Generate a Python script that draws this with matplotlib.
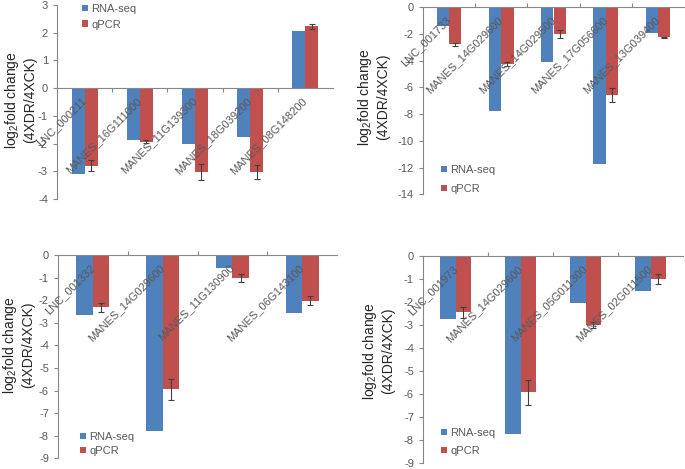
import matplotlib
matplotlib.use("Agg")
import matplotlib.pyplot as plt
import numpy as np

plt.rcParams['font.family'] = ['Liberation Sans', 'DejaVu Sans']
plt.rcParams['mathtext.fontset'] = 'custom'
plt.rcParams['mathtext.rm'] = 'Liberation Sans'
plt.rcParams['mathtext.it'] = 'Liberation Sans:italic'
plt.rcParams['mathtext.bf'] = 'Liberation Sans:bold'
plt.rcParams['axes.axisbelow'] = False

W, H = 685, 469

# ---- data ----
p1_genes = ["LNC_000211", "MANES_16G111000", "MANES_11G139300", "MANES_18G039200", "MANES_08G148200"]
p1_rna = [-3.1, -1.88, -2.02, -1.76, 2.05]
p1_qpcr = [-2.8, -1.93, -3.02, -3.02, 2.23]
p1_err = [0.2, 0.05, 0.28, 0.25, 0.1]

p2_genes = ["LNC_001733", "MANES_14G029600", "MANES_14G029500", "MANES_17G056600", "MANES_13G039400"]
p2_rna = [-1.4, -7.74, -4.12, -11.73, -1.95]
p2_qpcr = [-2.77, -4.24, -2.02, -6.56, -2.25]
p2_err = [0.12, 0.15, 0.3, 0.55, 0.05]

p3_genes = ["LNC_001332", "MANES_14G029600", "MANES_11G130900", "MANES_06G143100"]
p3_rna = [-2.65, -7.77, -0.56, -2.58]
p3_qpcr = [-2.32, -5.94, -1.0, -2.02]
p3_err = [0.2, 0.46, 0.18, 0.2]

p4_genes = ["LNC_001973", "MANES_14G029600", "MANES_05G011300", "MANES_02G011500"]
p4_rna = [-2.74, -7.75, -2.03, -1.51]
p4_qpcr = [-2.44, -5.94, -3.0, -1.02]
p4_err = [0.24, 0.54, 0.12, 0.22]

BLUE = "#4F81BD"
RED = "#C0504D"
GRAY = "#595959"
AXC = "#868686"

fig = plt.figure(figsize=(W / 100, H / 100), dpi=100)

def px_axes(l, t, r, b):
    return fig.add_axes([l / W, 1 - b / H, (r - l) / W, (b - t) / H])

panels = [
    dict(box=(57, 5, 333, 199), genes=p1_genes, rna=p1_rna, q=p1_qpcr, err=p1_err,
         ylim=(-4, 3), yt=np.arange(-4, 4, 1), tickdir='out',
         leg=(82, 4), lsp=0.5, ylab=(20, 100)),
    dict(box=(423, 7.3, 684, 194.3), genes=p2_genes, rna=p2_rna, q=p2_qpcr, err=p2_err,
         ylim=(-14, 0), yt=np.arange(-14, 1, 2), tickdir='in',
         leg=(441, 165), lsp=0.8, ylab=(373, 97)),
    dict(box=(58, 255, 337, 458.3), genes=p3_genes, rna=p3_rna, q=p3_qpcr, err=p3_err,
         ylim=(-9, 0), yt=np.arange(-9, 1, 1), tickdir='in',
         leg=(80, 432), lsp=0.36, ylab=(18, 345)),
    dict(box=(423, 256, 683, 462.7), genes=p4_genes, rna=p4_rna, q=p4_qpcr, err=p4_err,
         ylim=(-9, 0), yt=np.arange(-9, 1, 1), tickdir='in',
         leg=(441, 428), lsp=0.7, ylab=(378, 351)),
]

w = 0.235
for p in panels:
    ax = px_axes(*p['box'])
    ax.set_axisbelow(False)
    n = len(p['genes'])
    x = np.arange(n)
    ax.bar(x - w / 2, p['rna'], w, color=BLUE, label="RNA-seq", zorder=1.2)
    ax.bar(x + w / 2, p['q'], w, color=RED, label="qPCR", zorder=1.2)
    ax.errorbar(x + w / 2, p['q'], yerr=p['err'], fmt='none', ecolor="#404040",
                elinewidth=0.8, capsize=2.5, capthick=0.8, zorder=1.4)
    ax.set_xlim(-0.5, n - 0.5)
    ax.set_ylim(*p['ylim'])
    ax.set_yticks(p['yt'])
    ax.set_yticklabels([str(int(v)) for v in p['yt']])
    for s in ['top', 'right']:
        ax.spines[s].set_visible(False)
    ax.spines['bottom'].set_position(('data', 0))
    ax.spines['bottom'].set_color(AXC)
    ax.spines['left'].set_color(AXC)
    ax.tick_params(axis='y', colors=AXC, labelcolor=GRAY, labelsize=8, length=3, width=0.8, direction='out')
    ax.set_xticks(x)
    ax.set_xticklabels(p['genes'], rotation=45, ha='right', va='center', rotation_mode='anchor')
    ax.tick_params(axis='x', which='major', length=0, labelsize=8, labelcolor=GRAY, pad=8)
    ax.set_xticks(np.arange(0.5, n - 0.5, 1), minor=True)
    ax.tick_params(axis='x', which='minor', length=3, width=0.8, color=AXC, direction=p['tickdir'])
    ax.xaxis.set_zorder(3)
    ax.yaxis.set_zorder(3)
    lx, ly = p['leg']
    ax.legend(loc='upper left', bbox_to_anchor=(lx / W, 1 - ly / H), bbox_transform=fig.transFigure,
              frameon=False, fontsize=8, labelcolor=GRAY, handlelength=0.55, handleheight=0.5,
              handletextpad=0.3, labelspacing=p['lsp'], borderpad=0, borderaxespad=0)
    yx, yy = p['ylab']
    fig.text(yx / W, 1 - yy / H, "log$_2$fold change\n(4XDR/4XCK)", rotation=90,
             ha='center', va='center', multialignment='center', fontsize=10, color="#262626")

fig.savefig("out.png", dpi=100)
